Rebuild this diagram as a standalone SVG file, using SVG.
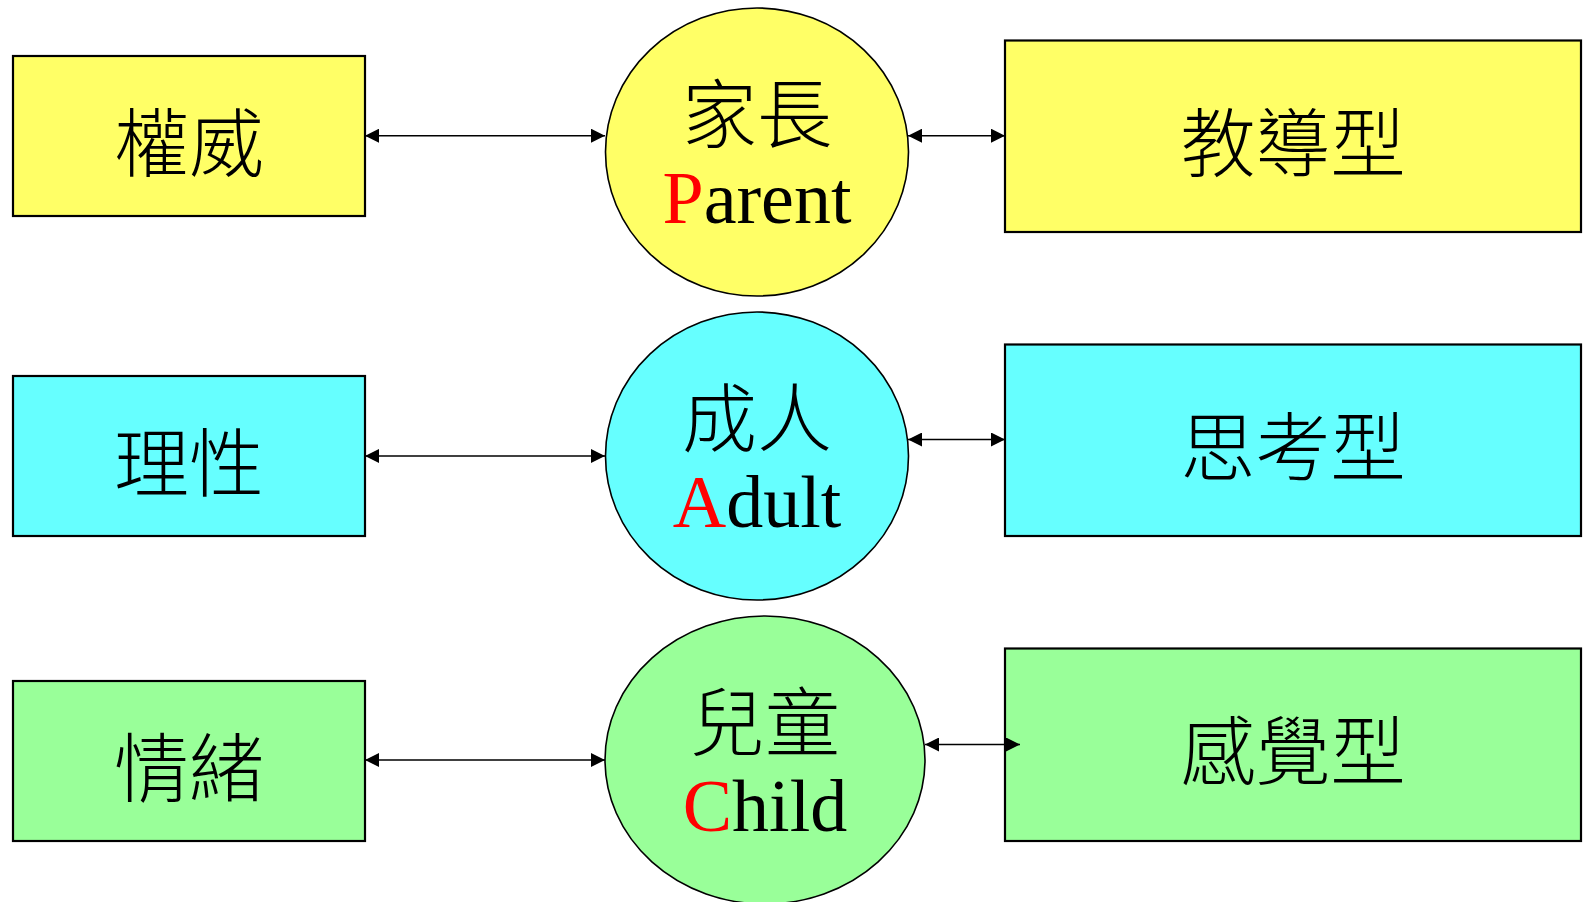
<svg xmlns="http://www.w3.org/2000/svg" width="1588" height="902" viewBox="0 0 1588 902">
<style>
.box{stroke:#000;stroke-width:2.2}
.ell{stroke:#000;stroke-width:1.6}
.y{fill:#FFFF66}
.c{fill:#66FFFF}
.g{fill:#99FF99}
.cjk{font-family:"Noto Sans CJK TC","Noto Sans CJK SC",sans-serif;font-size:75px;font-weight:300;fill:#000;text-anchor:middle}
.en{font-family:"Liberation Serif","Times New Roman",serif;font-size:74px;fill:#000;text-anchor:middle}
.red{fill:#FF0000}
.conn{stroke:#000;stroke-width:1.4;fill:none;marker-start:url(#ah);marker-end:url(#ah)}
</style>
<defs>
<marker id="ah" markerUnits="userSpaceOnUse" markerWidth="14" markerHeight="14" refX="14" refY="7" orient="auto-start-reverse">
<path d="M0,0 L14,7 L0,14 z" fill="#000"/>
</marker>
</defs>
<rect width="1588" height="902" fill="#fff"/>
<g id="authority">
<rect class="box y" x="13" y="56" width="352" height="160"/>
<text class="cjk" x="189" y="171">權威</text>
</g>
<g id="parent">
<ellipse class="ell y" cx="757" cy="152" rx="151.5" ry="144"/>
<text class="cjk" x="757" y="142">家長</text>
<text class="en" x="757" y="223"><tspan class="red">P</tspan>arent</text>
</g>
<g id="instructive">
<rect class="box y" x="1005" y="40.5" width="576" height="191.5"/>
<text class="cjk" x="1293" y="171">教導型</text>
</g>
<g id="rational">
<rect class="box c" x="13" y="376" width="352" height="160"/>
<text class="cjk" x="189" y="491">理性</text>
</g>
<g id="adult">
<ellipse class="ell c" cx="757" cy="456" rx="151.5" ry="144"/>
<text class="cjk" x="757" y="446">成人</text>
<text class="en" x="757" y="527"><tspan class="red">A</tspan>dult</text>
</g>
<g id="thinking">
<rect class="box c" x="1005" y="344.5" width="576" height="191.5"/>
<text class="cjk" x="1293" y="475">思考型</text>
</g>
<g id="emotion">
<rect class="box g" x="13" y="681" width="352" height="160"/>
<text class="cjk" x="189" y="796">情緒</text>
</g>
<g id="child">
<ellipse class="ell g" cx="765" cy="760" rx="160" ry="144"/>
<text class="cjk" x="765" y="750">兒童</text>
<text class="en" x="765" y="831"><tspan class="red">C</tspan>hild</text>
</g>
<g id="feeling">
<rect class="box g" x="1005" y="648.5" width="576" height="192.5"/>
<text class="cjk" x="1293" y="779">感覺型</text>
</g>
<g id="connectors">
<path class="conn" d="M365,135.7 L605,135.7"/>
<path class="conn" d="M908,135.7 L1005,135.7"/>
<path class="conn" d="M365,456 L605,456"/>
<path class="conn" d="M908,439.5 L1005,439.5"/>
<path class="conn" d="M365,760 L605,760"/>
<path class="conn" d="M925,744.5 L1020,744.5"/>
</g>
</svg>
